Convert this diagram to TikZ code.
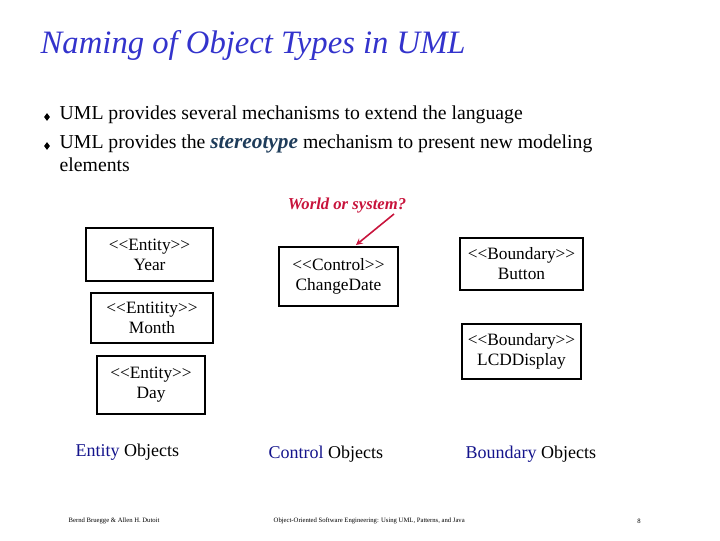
\documentclass[tikz,border=0pt]{standalone}
\usepackage{fontspec}
\setmainfont{Liberation Serif}
\usetikzlibrary{shapes.geometric}
\definecolor{ttl}{RGB}{51,51,204}
\definecolor{stc}{RGB}{30,60,90}
\definecolor{wred}{RGB}{200,20,60}
\definecolor{kw}{RGB}{20,20,140}
\newcommand{\stl}{<\kern0pt<}
\newcommand{\str}{>\kern0pt>}
\begin{document}
\begin{tikzpicture}[x=0.75pt,y=-0.75pt,
  obj/.style={draw,line width=1.5pt,align=center,font=\fontsize{13}{15}\selectfont,inner sep=0pt,anchor=north west},
  lbl/.style={font=\fontsize{13.5}{15}\selectfont,anchor=west},
  bul/.style={diamond,fill,inner sep=0pt,minimum width=4.5pt,minimum height=6pt},
  body/.style={font=\fontsize{14.8}{17}\selectfont,anchor=west,align=left}]
\useasboundingbox (0,0) rectangle (720,540);
\node[anchor=west,font=\fontsize{24.5}{27}\selectfont\itshape,text=ttl] (title) at (36,46) {Naming of Object Types in UML};
\node[bul] (b1) at (47,117) {};
\node[bul] (b2) at (47,146) {};
\node[body] (t1) at (55,115) {UML provides several mechanisms to extend the language};
\node[body] (t2) at (55,153) {UML provides the {\fontsize{16}{17}\selectfont\bfseries\itshape\color{stc}stereotype} mechanism to present new modeling\\elements};
\node[obj,minimum width=127pt*0.75,minimum height=53pt*0.75] (year) at (85,227) {\stl Entity\str\\Year};
\node[obj,minimum width=122pt*0.75,minimum height=50pt*0.75] (month) at (90,292) {\stl Entitity\str\\Month};
\node[obj,minimum width=108pt*0.75,minimum height=58pt*0.75] (day) at (96,355) {\stl Entity\str\\Day};
\node[obj,minimum width=119pt*0.75,minimum height=59pt*0.75] (cd) at (278,246) {\stl Control\str\\ChangeDate};
\node[obj,minimum width=123pt*0.75,minimum height=52pt*0.75] (btn) at (459,237) {\stl Boundary\str\\Button};
\node[obj,minimum width=119pt*0.75,minimum height=55pt*0.75] (lcd) at (461,323) {\stl Boundary\str\\LCDDisplay};
\node[font=\fontsize{12.5}{14}\selectfont\bfseries\itshape,text=wred] (q) at (347,206) {World or system?};
\coordinate (qs) at (394,214);
\coordinate (qe) at (356,245);
\draw[wred,line width=1.2pt,-stealth] (qs) -- (qe);
\node[lbl] (eo) at (71,452) {{\color{kw}Entity} Objects};
\node[lbl] (co) at (264,454) {{\color{kw}Control} Objects};
\node[lbl] (bo) at (461,454) {{\color{kw}Boundary} Objects};
\node[font=\fontsize{5}{6}\selectfont,anchor=west] (f1) at (64,521) {Bernd Bruegge \& Allen H. Dutoit};
\node[font=\fontsize{5}{6}\selectfont,anchor=west] (f2) at (269,521) {Object-Oriented Software Engineering: Using UML, Patterns, and Java};
\node[font=\fontsize{5}{6}\selectfont] (f3) at (639,521) {8};
\end{tikzpicture}
\end{document}
